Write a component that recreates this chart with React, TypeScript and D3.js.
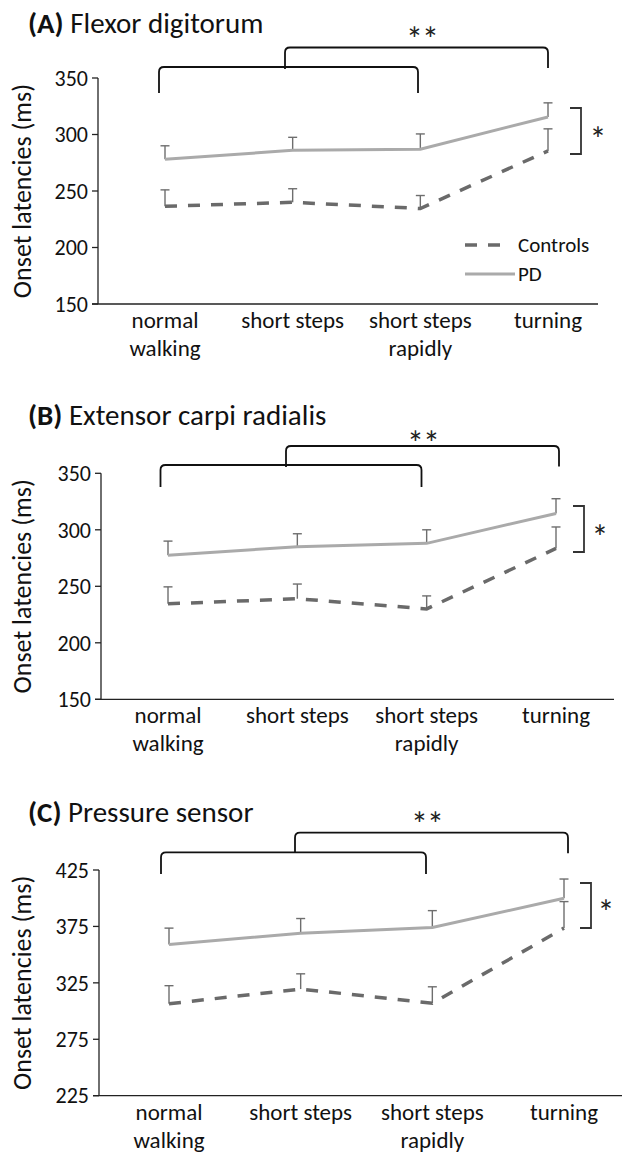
import React from "react";
import * as d3 from "d3";

const categories = ["normal walking", "short steps", "short steps rapidly", "turning"];
const categoryLines = [["normal", "walking"], ["short steps"], ["short steps", "rapidly"], ["turning"]];

// Panel A – Flexor digitorum
const aPD = [278, 286, 287, 315.5];
const aPDTop = [290, 297.5, 300.5, 328];
const aCtrl = [236.5, 240, 234.5, 285.5];
const aCtrlTop = [251, 252, 246, 305];
const aTicks = [150, 200, 250, 300, 350];

// Panel B – Extensor carpi radialis
const bPD = [277.5, 285, 288, 314.5];
const bPDTop = [290, 296.5, 300, 327.5];
const bCtrl = [234.5, 239, 230, 283.5];
const bCtrlTop = [249.5, 252, 241.5, 302.5];
const bTicks = [150, 200, 250, 300, 350];

// Panel C – Pressure sensor
const cPD = [359, 369, 374, 400];
const cPDTop = [373.5, 382, 389, 417];
const cCtrl = [306.5, 319.5, 307, 373.5];
const cCtrlTop = [322.5, 333, 321.5, 397];
const cTicks = [225, 275, 325, 375, 425];

const FONT = "Carlito, Lato, 'Open Sans', sans-serif";
const PD_COLOR = "#aaaaaa";
const CTRL_COLOR = "#6a6a6a";
const ERR_COLOR = "#6e6e6e";

type PanelCfg = {
  letter: string;
  name: string;
  pd: number[];
  pdTop: number[];
  ctrl: number[];
  ctrlTop: number[];
  ticks: number[];
  axisX: number;
  axisRight: number;
  yTop: number;
  yBottom: number;
  xFirst: number;
  xLast: number;
  titleY: number;
  starsX: number;
  starsY: number;
  lower: [number, number, number, number];
  upper: [number, number, number, number, number];
  sig: [number, number, number];
  starX: number;
  starY: number;
  legend: boolean;
};

const panels: PanelCfg[] = [
  {
    letter: "(A)", name: "Flexor digitorum",
    pd: aPD, pdTop: aPDTop, ctrl: aCtrl, ctrlTop: aCtrlTop, ticks: aTicks,
    axisX: 98, axisRight: 598, yTop: 78, yBottom: 304, xFirst: 165, xLast: 548,
    titleY: 33, starsX: 422, starsY: 32,
    lower: [159, 418, 67, 93], upper: [285, 548, 47.5, 68, 69],
    sig: [581, 108, 154], starX: 598, starY: 132, legend: true,
  },
  {
    letter: "(B)", name: "Extensor carpi radialis",
    pd: bPD, pdTop: bPDTop, ctrl: bCtrl, ctrlTop: bCtrlTop, ticks: bTicks,
    axisX: 101, axisRight: 614, yTop: 473.3, yBottom: 699.3, xFirst: 168, xLast: 556,
    titleY: 425, starsX: 423, starsY: 436,
    lower: [160.5, 421.5, 465, 487], upper: [286, 559, 446, 466.5, 467],
    sig: [584, 506, 552], starX: 600, starY: 530, legend: false,
  },
  {
    letter: "(C)", name: "Pressure sensor",
    pd: cPD, pdTop: cPDTop, ctrl: cCtrl, ctrlTop: cCtrlTop, ticks: cTicks,
    axisX: 99, axisRight: 622, yTop: 870, yBottom: 1095.7, xFirst: 169, xLast: 564,
    titleY: 822, starsX: 427, starsY: 817,
    lower: [161, 426, 852.3, 874], upper: [295, 568, 832.7, 853.3, 853],
    sig: [591, 883, 928], starX: 606, starY: 905, legend: false,
  },
];

function bracketPath(x1: number, x2: number, y: number, yEnd1: number, yEnd2: number) {
  const r = 5;
  return `M${x1},${yEnd1} L${x1},${y + r} Q${x1},${y} ${x1 + r},${y} L${x2 - r},${y} Q${x2},${y} ${x2},${y + r} L${x2},${yEnd2}`;
}

function Panel({ p }: { p: PanelCfg }) {
  const yDomain = [p.ticks[0], p.ticks[p.ticks.length - 1]];
  const y = d3.scaleLinear().domain(yDomain).range([p.yBottom, p.yTop]);
  const x = d3.scalePoint<string>().domain(categories).range([p.xFirst, p.xLast]);
  const line = d3
    .line<number>()
    .x((_, i) => x(categories[i]) as number)
    .y((d) => y(d));

  const cap = 4.5;
  const errBars = (vals: number[], tops: number[], key: string) =>
    vals.map((v, i) => {
      const cx = x(categories[i]) as number;
      return (
        <g key={key + i} stroke={ERR_COLOR} strokeWidth={1.4}>
          <line x1={cx} x2={cx} y1={y(v)} y2={y(tops[i])} />
          <line x1={cx - cap} x2={cx + cap} y1={y(tops[i])} y2={y(tops[i])} />
        </g>
      );
    });

  const [lx1, lx2, ly, lyEnd] = p.lower;
  const [ux1, ux2, uy, uyEnd, uStem] = p.upper;
  const [sx, sy1, sy2] = p.sig;
  const midY = (p.yTop + p.yBottom) / 2;

  return (
    <g fontFamily={FONT}>
      <text x={28} y={p.titleY} fontSize={29} fill="#111">
        <tspan fontWeight="bold">{p.letter}</tspan>
        <tspan> {p.name}</tspan>
      </text>

      <text
        transform={`translate(31,${midY}) rotate(-90)`}
        textAnchor="middle"
        fontSize={26}
        fill="#111"
      >
        Onset latencies (ms)
      </text>

      <line x1={p.axisX} x2={p.axisX} y1={p.yTop} y2={p.yBottom} stroke="#222" strokeWidth={1.3} />
      <line x1={p.axisX - 6} x2={p.axisRight} y1={p.yBottom} y2={p.yBottom} stroke="#222" strokeWidth={1.3} />
      {p.ticks.map((t) => (
        <g key={t}>
          <line x1={p.axisX - 6} x2={p.axisX} y1={y(t)} y2={y(t)} stroke="#222" strokeWidth={1.3} />
          <text x={p.axisX - 10} y={y(t)} dy="0.35em" textAnchor="end" fontSize={22} fill="#111">
            {t}
          </text>
        </g>
      ))}
      {categories.map((c, i) => (
        <text key={c} x={x(c)} textAnchor="middle" fontSize={23} fill="#111">
          {categoryLines[i].map((ln, j) => (
            <tspan key={j} x={x(c)} y={p.yBottom + 24 + j * 28}>
              {ln}
            </tspan>
          ))}
        </text>
      ))}

      {errBars(p.pd, p.pdTop, "pd")}
      {errBars(p.ctrl, p.ctrlTop, "ct")}

      <path d={line(p.pd) || ""} fill="none" stroke={PD_COLOR} strokeWidth={3} />
      <path
        d={line(p.ctrl) || ""}
        fill="none"
        stroke={CTRL_COLOR}
        strokeWidth={3.5}
        strokeDasharray="12,11"
      />

      <path d={bracketPath(lx1, lx2, ly, lyEnd, lyEnd)} fill="none" stroke="#111" strokeWidth={1.8} />
      <path d={`M${ux1},${uStem} L${ux1},${uy + 5} Q${ux1},${uy} ${ux1 + 5},${uy} L${ux2 - 5},${uy} Q${ux2},${uy} ${ux2},${uy + 5} L${ux2},${uyEnd}`} fill="none" stroke="#111" strokeWidth={1.8} />
      <text x={p.starsX} y={p.starsY + 19} textAnchor="middle" fontSize={34} fill="#222" letterSpacing={-1}>
        **
      </text>

      <path
        d={`M${sx - 11},${sy1} L${sx},${sy1} L${sx},${sy2} L${sx - 11},${sy2}`}
        fill="none"
        stroke="#333"
        strokeWidth={1.8}
      />
      <text x={p.starX} y={p.starY + 19} textAnchor="middle" fontSize={34} fill="#222">
        *
      </text>

      {p.legend && (
        <g>
          <line x1={465} x2={504} y1={245} y2={245} stroke={CTRL_COLOR} strokeWidth={3.5} strokeDasharray="12,11" />
          <text x={518} y={245} dy="0.35em" fontSize={21} fill="#111">Controls</text>
          <line x1={465} x2={515} y1={274} y2={274} stroke={PD_COLOR} strokeWidth={3} />
          <text x={518} y={274} dy="0.35em" fontSize={21} fill="#111">PD</text>
        </g>
      )}
    </g>
  );
}

export default function App() {
  return (
    <svg
      width={624}
      height={1153}
      style={{ position: "absolute", left: 0, top: 0, background: "#fff" }}
    >
      <rect width={624} height={1153} fill="#fff" />
      {panels.map((p) => (
        <Panel key={p.letter} p={p} />
      ))}
    </svg>
  );
}
